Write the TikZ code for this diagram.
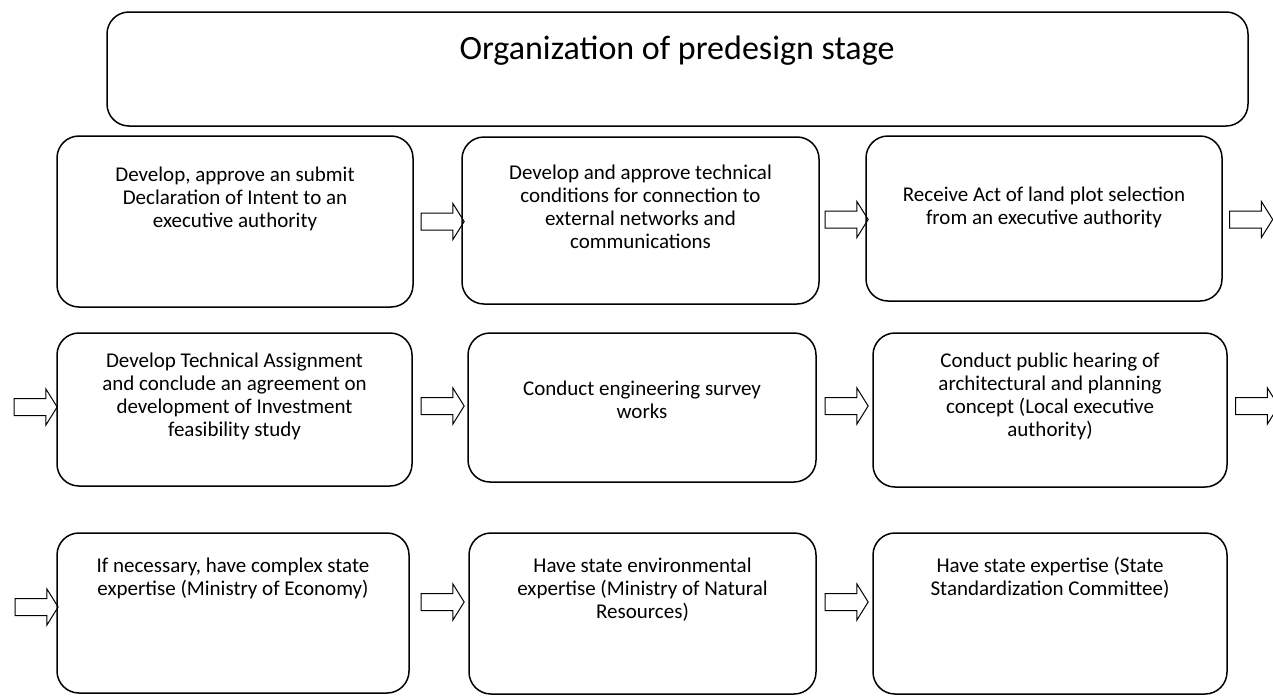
\documentclass[tikz,border=0pt]{standalone}
\usepackage{fontspec}
\setmainfont{Carlito}
\usetikzlibrary{shapes.arrows}
\tikzstyle{stage} = [rectangle, rounded corners=22pt, draw=black, line width=1.5pt]
\tikzstyle{stagetext} = [align=center, inner sep=0pt, anchor=base, font=\fontsize{21}{23}\selectfont]
\tikzstyle{blockarrow} = [single arrow, draw=black, line width=1pt, inner xsep=0pt, inner ysep=8pt, minimum height=43pt, single arrow head extend=9.5pt, single arrow tip angle=116]

\begin{document}
\begin{tikzpicture}[x=1pt, y=-1pt]
	\useasboundingbox (0,0) rectangle (1273,696);
	% title
	\node (title) at (677.5, 69) [stage, minimum width=1141pt, minimum height=114pt] {};
	\node (titletext) at (677, 59) [stagetext, font=\fontsize{34}{40}\selectfont] {Organization of predesign stage};
	% first row (text nodes sit on the baseline of their last line)
	\node (s1) at (235, 221.5) [stage, minimum width=356pt, minimum height=171pt] {};
	\node (s2) at (640.5, 220.5) [stage, minimum width=357pt, minimum height=167pt] {};
	\node (s3) at (1044, 218.5) [stage, minimum width=356pt, minimum height=165pt] {};
	\node (t1) at (235, 227) [stagetext] {Develop, approve an submit\\Declaration of Intent to an\\executive authority};
	\node (t2) at (640.5, 248) [stagetext] {Develop and approve technical\\conditions for connection to\\external networks and\\communications};
	\node (t3) at (1044, 224) [stagetext] {Receive Act of land plot selection\\from an executive authority};
	\node (a1) at (440, 221.5) [blockarrow] {};
	\node (a2) at (844, 219.5) [blockarrow] {};
	\node (a3) at (1248.5, 219.5) [blockarrow] {};
	% second row
	\node (s4) at (234.5, 409.5) [stage, minimum width=355pt, minimum height=153pt] {};
	\node (s5) at (642, 407.5) [stage, minimum width=348pt, minimum height=149pt] {};
	\node (s6) at (1050, 410) [stage, minimum width=354pt, minimum height=154pt] {};
	\node (t4) at (234.5, 436) [stagetext] {Develop Technical Assignment\\and conclude an agreement on\\development of Investment\\feasibility study};
	\node (t5) at (642, 418) [stagetext] {Conduct engineering survey\\works};
	\node (t6) at (1050, 436) [stagetext] {Conduct public hearing of\\architectural and planning\\concept (Local executive\\authority)};
	\node (a4) at (33, 407) [blockarrow] {};
	\node (a5) at (440, 406) [blockarrow] {};
	\node (a6) at (844, 406) [blockarrow] {};
	\node (a7) at (1254.5, 406) [blockarrow] {};
	% third row
	\node (s7) at (233, 613) [stage, minimum width=352pt, minimum height=160pt] {};
	\node (s8) at (642.5, 613.5) [stage, minimum width=347pt, minimum height=161pt] {};
	\node (s9) at (1050, 613.5) [stage, minimum width=354pt, minimum height=161pt] {};
	\node (t7) at (233, 595) [stagetext] {If necessary, have complex state\\expertise (Ministry of Economy)};
	\node (t8) at (642.5, 618) [stagetext] {Have state environmental\\expertise (Ministry of Natural\\Resources)};
	\node (t9) at (1050, 595) [stagetext] {Have state expertise (State\\Standardization Committee)};
	\node (a8) at (34, 607) [blockarrow] {};
	\node (a9) at (440, 602) [blockarrow] {};
	\node (a10) at (844, 602) [blockarrow] {};
\end{tikzpicture}
\end{document}
